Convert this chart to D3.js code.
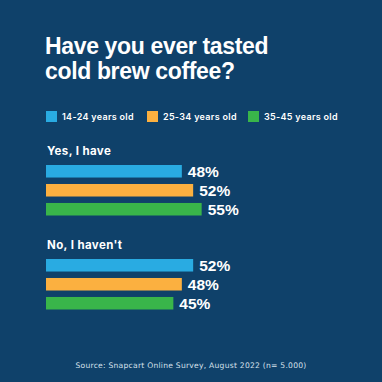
<!DOCTYPE html>
<html>
<head>
<meta charset="utf-8">
<script src="https://cdn.jsdelivr.net/npm/d3@7"></script>
<style>
  body { margin: 0; background: #0f416a; }
  svg { display: block; font-family: Inter, "Noto Sans", sans-serif; }
</style>
</head>
<body>
<div class="chart"></div>
<script>
// Data
var TITLE = ["Have you ever tasted", "cold brew coffee?"];
var AGES = ["14-24 years old", "25-34 years old", "35-45 years old"];
var COLORS = ["#29abe2", "#fbb040", "#39b54a"];
var ANSWERS = ["Yes, I have", "No, I haven't"];
var YES = [48, 52, 55];
var NO = [52, 48, 45];
var SOURCE = "Source: Snapcart Online Survey, August 2022 (n= 5.000)";

var width = 382, height = 382;

var svg = d3.select(".chart").append("svg")
    .attr("width", width)
    .attr("height", height);

svg.append("rect")
    .attr("width", width)
    .attr("height", height)
    .attr("fill", "#0f416a");

// title, two lines
svg.selectAll(".title")
    .data(TITLE)
    .enter().append("text")
    .attr("class", "title")
    .attr("x", 45)
    .attr("y", function(d, i) { return 54 + i * 24.5; })
    .attr("fill", "#fff")
    .attr("font-family", "'Liberation Sans', Arial, sans-serif")
    .attr("font-size", 23)
    .attr("font-weight", 700)
    .attr("letter-spacing", -0.35)
    .text(function(d) { return d; });

// legend
var legendX = [46, 147, 248];
var legend = svg.selectAll(".legend")
    .data(AGES)
    .enter().append("g")
    .attr("class", "legend")
    .attr("transform", function(d, i) { return "translate(" + legendX[i] + ",111)"; });

legend.append("rect")
    .attr("width", 11)
    .attr("height", 11)
    .attr("fill", function(d, i) { return COLORS[i]; });

legend.append("text")
    .attr("x", 16)
    .attr("y", 9)
    .attr("fill", "#fff")
    .attr("font-size", 9)
    .attr("font-weight", 600)
    .attr("letter-spacing", 0.3)
    .text(function(d) { return d; });

// scales
var scaleX = d3.scaleLinear()
    .domain([0, 100])
    .range([0, 283]);

var scaleGroup = d3.scalePoint()
    .domain(ANSWERS)
    .range([165, 259]);

var scaleBar = d3.scaleBand()
    .domain(AGES)
    .range([0, 50.5])
    .paddingInner(0.34);

var groups = [
    {answer: ANSWERS[0], values: YES},
    {answer: ANSWERS[1], values: NO}
];

var g = svg.selectAll(".group")
    .data(groups)
    .enter().append("g")
    .attr("class", "group")
    .attr("transform", function(d) { return "translate(46," + scaleGroup(d.answer) + ")"; });

g.append("text")
    .attr("x", 1)
    .attr("y", -10)
    .attr("fill", "#fff")
    .attr("font-size", 11.5)
    .attr("font-weight", 700)
    .attr("letter-spacing", 0.4)
    .text(function(d) { return d.answer; });

var bars = g.selectAll(".bar")
    .data(function(d) {
        return d.values.map(function(v, i) { return {age: AGES[i], value: v, color: COLORS[i]}; });
    })
    .enter().append("g")
    .attr("class", "bar");

bars.append("rect")
    .attr("x", 0)
    .attr("y", function(d) { return scaleBar(d.age); })
    .attr("width", function(d) { return scaleX(d.value); })
    .attr("height", scaleBar.bandwidth())
    .attr("fill", function(d) { return d.color; });

bars.append("text")
    .attr("x", function(d) { return scaleX(d.value) + 6; })
    .attr("y", function(d) { return scaleBar(d.age) + scaleBar.bandwidth() - 1; })
    .attr("fill", "#fff")
    .attr("font-family", "'Liberation Sans', Arial, sans-serif")
    .attr("font-size", 15.5)
    .attr("font-weight", 700)
    .text(function(d) { return d.value + "%"; });

// source
svg.append("text")
    .attr("x", 191)
    .attr("y", 368)
    .attr("text-anchor", "middle")
    .attr("fill", "#d5e0ea")
    .attr("font-family", "'DejaVu Sans', sans-serif")
    .attr("font-size", 7.6)
    .attr("letter-spacing", 0.25)
    .text(SOURCE);
</script>
</body>
</html>
